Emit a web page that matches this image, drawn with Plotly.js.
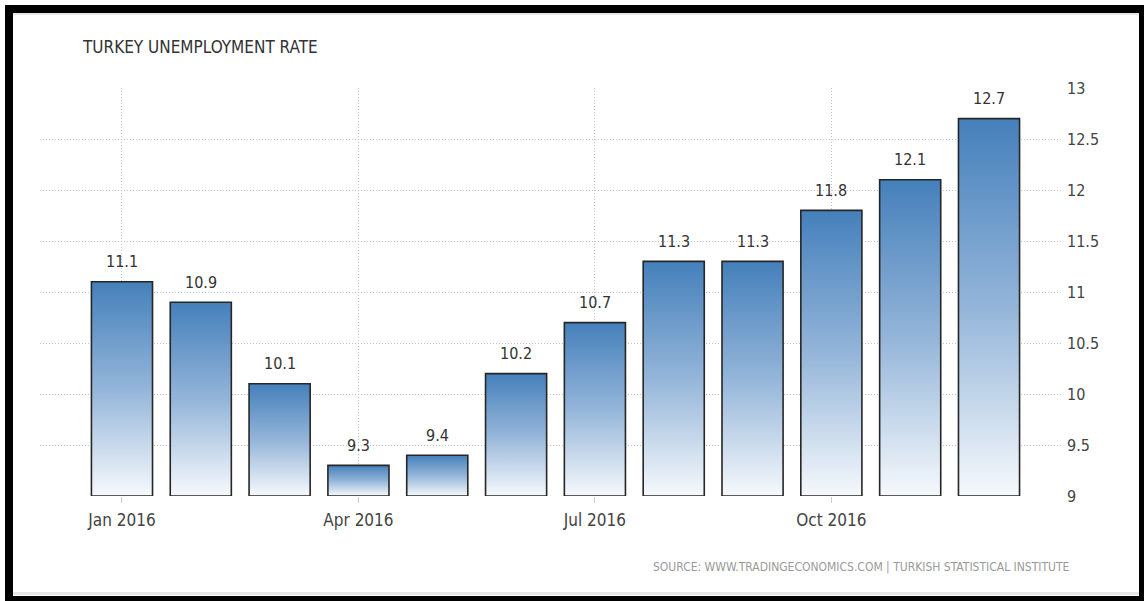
<!DOCTYPE html>
<html>
<head>
<meta charset="utf-8">
<script src="https://cdn.plot.ly/plotly-3.0.1.min.js"></script>
<style>
  html, body { margin: 0; padding: 0; background: #ffffff; }
  #chart { width: 1144px; height: 601px; }
</style>
</head>
<body>
<div id="chart"></div>
<script>
// ---- data ----
const months = ["Jan 2016", "Feb 2016", "Mar 2016", "Apr 2016", "May 2016", "Jun 2016",
                "Jul 2016", "Aug 2016", "Sep 2016", "Oct 2016", "Nov 2016", "Dec 2016"];
const rates = [11.1, 10.9, 10.1, 9.3, 9.4, 10.2, 10.7, 11.3, 11.3, 11.8, 12.1, 12.7];
const xTickVals = ["Jan 2016", "Apr 2016", "Jul 2016", "Oct 2016"];
const xTickText = ["Jan 2016", "Apr 2016", "Jul 2016", "Oct 2016"];
const yTickVals = [9, 9.5, 10, 10.5, 11, 11.5, 12, 12.5, 13];
const yTickText = ["9", "9.5", "10", "10.5", "11", "11.5", "12", "12.5", "13"];
const chartTitle = "TURKEY UNEMPLOYMENT RATE";
const sourceText = "SOURCE: WWW.TRADINGECONOMICS.COM | TURKISH STATISTICAL INSTITUTE";
const axisMin = 9, axisMax = 13;

// ---- layout geometry (pixels) ----
const W = 1144, H = 601;
const L = 40, R = 1062, T = 88, B = 496;
const px = x => (x - L) / (R - L);
const py = y => (B - y) / (B - T);
const FONT = "'DejaVu Sans Condensed', 'DejaVu Sans', sans-serif";

const trace = {
  type: "bar",
  x: months,
  y: rates.map(v => v - axisMin),
  base: axisMin,
  marker: { color: "#6f9bc9", line: { color: "#262626", width: 1.6 } },
  hoverinfo: "skip",
  width: 0.775
};

const annotations = months.map((m, i) => ({
  x: m, y: rates[i], xref: "x", yref: "y",
  text: rates[i].toFixed(1), showarrow: false,
  yanchor: "middle", yshift: 20,
  font: { family: FONT, size: 16, color: "#333333" }
}));
annotations.push({
  xref: "paper", yref: "paper", x: px(80), y: py(47),
  xanchor: "left", yanchor: "middle", showarrow: false,
  text: chartTitle, font: { family: FONT, size: 17, color: "#333333" }
});
annotations.push({
  xref: "paper", yref: "paper", x: px(1072), y: py(567),
  xanchor: "right", yanchor: "middle", showarrow: false,
  text: sourceText, font: { family: FONT, size: 12, color: "#9a9a9a" }
});

function rect(x0, y0, x1, y1, color) {
  return { type: "rect", xref: "paper", yref: "paper", layer: "above",
           x0: px(x0), x1: px(x1), y0: py(y0), y1: py(y1),
           fillcolor: color, line: { width: 0 } };
}
const shapes = [
  rect(5, 5, 1139, 13, "#000000"),
  rect(5, 5, 13, 596, "#000000"),
  rect(1139, 5, 1144, 601, "#000000"),
  rect(5, 596, 1144, 601, "#000000"),
  rect(13, 13, 1139, 15, "#e6e6e6"),
  rect(13, 592, 1139, 595, "#e6e6e6")
];

const layout = {
  width: W, height: H,
  margin: { l: L, r: W - R, t: T, b: H - B, pad: 0 },
  paper_bgcolor: "#ffffff", plot_bgcolor: "#ffffff",
  showlegend: false,
  bargap: 0.225,
  font: { family: FONT, color: "#444444" },
  xaxis: {
    type: "category",
    range: [-1.04, 11.926],
    tickmode: "array", tickvals: xTickVals, ticktext: xTickText,
    ticks: "outside", ticklen: 6, tickcolor: "#cccccc", tickwidth: 1,
    ticklabelstandoff: 3,
    showgrid: true, gridcolor: "#c4c4c4", griddash: "1px,2px", gridwidth: 1,
    showline: false, zeroline: false,
    tickfont: { family: FONT, size: 17, color: "#444444" }
  },
  yaxis: {
    side: "right",
    range: [axisMin, axisMax],
    tickmode: "array", tickvals: yTickVals, ticktext: yTickText,
    ticks: "", ticklabelstandoff: 4,
    showgrid: true, gridcolor: "#c4c4c4", griddash: "1px,2px", gridwidth: 1,
    showline: false, zeroline: false,
    tickfont: { family: FONT, size: 16, color: "#444444" }
  },
  annotations: annotations,
  shapes: shapes
};

function applyGradient(gd) {
  const svg = gd.querySelector("svg.main-svg");
  if (!svg) return;
  const ns = "http://www.w3.org/2000/svg";
  let defs = svg.querySelector("defs");
  if (!defs) { defs = document.createElementNS(ns, "defs"); svg.insertBefore(defs, svg.firstChild); }
  if (!svg.querySelector("#barGrad")) {
    const g = document.createElementNS(ns, "linearGradient");
    g.setAttribute("id", "barGrad");
    g.setAttribute("x1", "0"); g.setAttribute("y1", "0");
    g.setAttribute("x2", "0"); g.setAttribute("y2", "1");
    [["0", "#4580bb"], ["0.5", "#94b5d9"], ["1", "#f6f9fc"]].forEach(([o, c]) => {
      const s = document.createElementNS(ns, "stop");
      s.setAttribute("offset", o); s.setAttribute("stop-color", c);
      g.appendChild(s);
    });
    defs.appendChild(g);
  }
  gd.querySelectorAll(".barlayer .point path").forEach(p => { p.style.fill = "url(#barGrad)"; });
}

Plotly.newPlot("chart", [trace], layout, { staticPlot: true, displayModeBar: false })
  .then(gd => { applyGradient(gd); gd.on && gd.on("plotly_afterplot", () => applyGradient(gd)); });
</script>
</body>
</html>
